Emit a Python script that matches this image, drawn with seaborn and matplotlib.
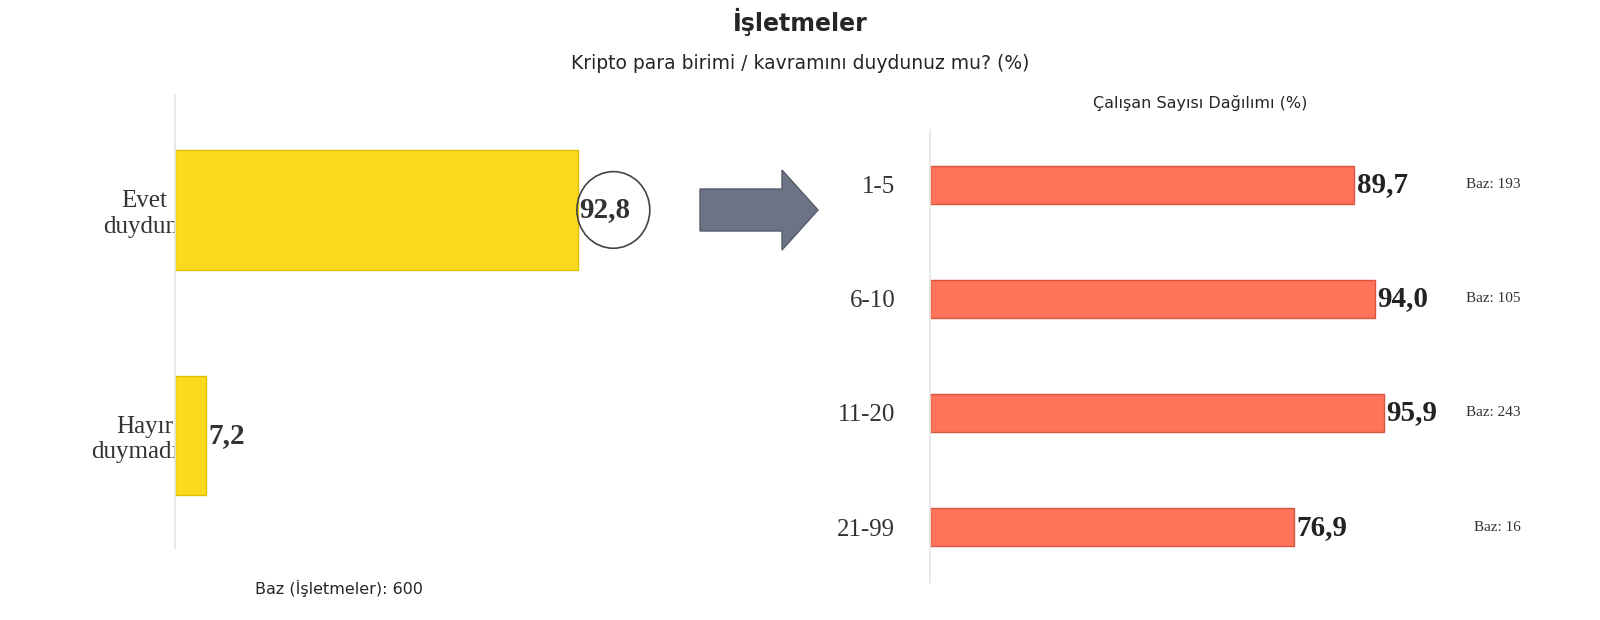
import matplotlib
matplotlib.use("Agg")
import matplotlib.pyplot as plt
import seaborn as sns
import pandas as pd
from matplotlib.patches import FancyArrow, Ellipse

left_cats = ["Evet\nduydum", "Hayır\nduymadım"]
left_vals = [92.8, 7.2]
right_cats = ["1-5", "6-10", "11-20", "21-99"]
right_vals = [89.7, 94.0, 95.9, 76.9]
right_baz = ["Baz: 193", "Baz: 105", "Baz: 243", "Baz: 16"]

sns.set_theme(style="white")
plt.rcParams['font.family'] = ['DejaVu Sans']
serif = ['Liberation Serif', 'DejaVu Serif']

fig = plt.figure(figsize=(16, 6.2), dpi=100)
fig.text(0.5, 0.965, "İşletmeler", ha="center", va="center", fontsize=17, fontweight="bold")
fig.text(0.5, 0.898, "Kripto para birimi / kavramını duydunuz mu? (%)", ha="center", va="center", fontsize=13.5)

# left
ax1 = fig.add_axes([175/1600, 1-548/620, 434/1600, 453/620])
dl = pd.DataFrame({"cat": left_cats, "val": left_vals})
sns.barplot(data=dl, x="val", y="cat", orient="h", color="#FAD91E", width=0.53,
            edgecolor="#E0C000", linewidth=1, ax=ax1, saturation=1)
ax1.set_xlim(0, 100)
ax1.set_ylim(1.5, -0.51)
ax1.set_xlabel(""); ax1.set_ylabel("")
ax1.set_xticks([])
ax1.tick_params(axis="y", length=0, pad=22)
for t in ax1.get_yticklabels():
    t.set_fontfamily(serif); t.set_fontsize(18); t.set_color("#333333"); t.set_ha("center")
for s in ["top", "right", "bottom"]:
    ax1.spines[s].set_visible(False)
ax1.spines["left"].set_color("#e6e6e6")
for i, v in enumerate(left_vals):
    ax1.text(v + 0.4, i, f"{v:.1f}".replace(".", ","), va="center", ha="left",
             fontsize=21, fontweight="bold", family=serif, color="#333333")
ax1.add_patch(Ellipse((92.8 + 8.2, 0), 16.8, 0.34, fill=False, edgecolor="#444444", lw=1.2, clip_on=False))
fig.text(255/1600, 1-588/620, "Baz (İşletmeler): 600", fontsize=11.5, va="center")

# arrow
fig.patches.append(FancyArrow(700/1600, 1-210/620, 82/1600, 0, width=42/620, head_width=80/620,
                              head_length=36/1600, length_includes_head=False,
                              transform=fig.transFigure, color="#6B7385", ec="#555b6a"))

# right
ax2 = fig.add_axes([930/1600, 1-583/620, 473/1600, 453/620])
dr = pd.DataFrame({"cat": right_cats, "val": right_vals})
sns.barplot(data=dr, x="val", y="cat", orient="h", color="#FF735A", width=0.33,
            edgecolor="#D9553F", linewidth=1, ax=ax2, saturation=1)
ax2.set_xlim(0, 100)
ax2.set_ylim(3.49, -0.48)
ax2.set_xlabel(""); ax2.set_ylabel("")
ax2.set_xticks([])
ax2.tick_params(axis="y", length=0, pad=25)
for t in ax2.get_yticklabels():
    t.set_fontfamily(serif); t.set_fontsize(18); t.set_color("#333333")
for s in ["top", "right", "bottom"]:
    ax2.spines[s].set_visible(False)
ax2.spines["left"].set_color("#e6e6e6")
for i, v in enumerate(right_vals):
    ax2.text(v + 0.5, i, f"{v:.1f}".replace(".", ","), va="center", ha="left",
             fontsize=21, fontweight="bold", family=serif, color="#222222")
    ax2.text(1.19 if i < 3 else 1.2, i, right_baz[i], transform=ax2.get_yaxis_transform(),
             va="center", ha="center", fontsize=11, family=serif, color="#333333")
fig.text(1200/1600, 1-103/620, "Çalışan Sayısı Dağılımı (%)", ha="center", va="center", fontsize=11.5)

fig.savefig("out.png", dpi=100)
